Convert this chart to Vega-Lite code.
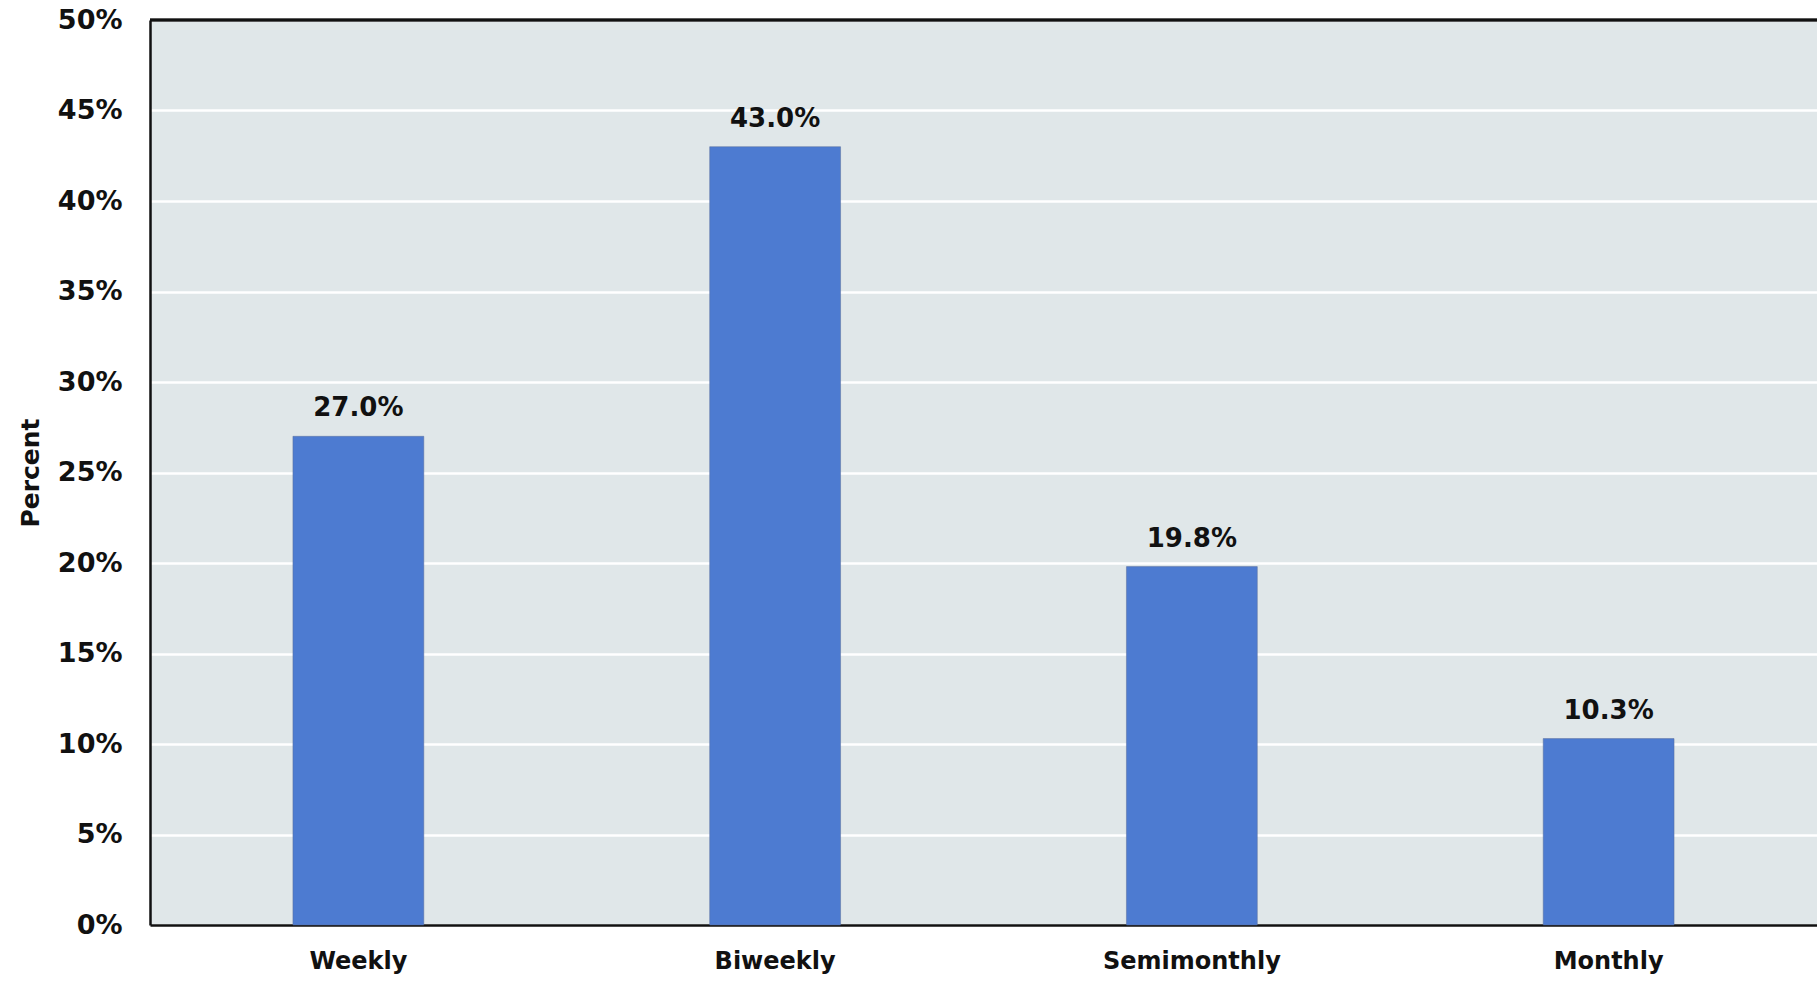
{
  "$schema": "https://vega.github.io/schema/vega-lite/v6.json",
  "width": 1667,
  "height": 905,
  "autosize": {"type": "none"},
  "padding": {"left": 150, "top": 20, "right": 0, "bottom": 57},
  "background": "white",
  "config": {
    "view": {"stroke": null, "fill": "#e0e7e9"},
    "font": "DejaVu Sans"
  },
  "data": {
    "values": [
      {"frequency": "Weekly", "share": 0.27},
      {"frequency": "Biweekly", "share": 0.43},
      {"frequency": "Semimonthly", "share": 0.198},
      {"frequency": "Monthly", "share": 0.103}
    ]
  },
  "encoding": {
    "x": {
      "field": "frequency",
      "type": "nominal",
      "sort": null,
      "scale": {"paddingInner": 0.686, "paddingOuter": 0.343},
      "axis": {
        "title": null,
        "labelAngle": 0,
        "labelFont": "DejaVu Sans",
        "labelFontWeight": "bold",
        "labelFontSize": 24,
        "labelColor": "#111111",
        "labelPadding": 24,
        "ticks": false,
        "domain": true,
        "domainColor": "#111111",
        "domainWidth": 2.5
      }
    },
    "y": {
      "field": "share",
      "type": "quantitative",
      "scale": {"domain": [0, 0.5], "nice": false},
      "axis": {
        "title": "Percent",
        "titleFont": "DejaVu Sans",
        "titleFontSize": 25,
        "titleFontWeight": "bold",
        "titleColor": "#111111",
        "titlePadding": 14,
        "format": ".0%",
        "values": [0, 0.05, 0.1, 0.15, 0.2, 0.25, 0.3, 0.35, 0.4, 0.45, 0.5],
        "labelFont": "DejaVu Sans",
        "labelFontWeight": "bold",
        "labelFontSize": 27,
        "labelColor": "#111111",
        "labelPadding": 28,
        "ticks": false,
        "domain": true,
        "domainColor": "#111111",
        "domainWidth": 2.5,
        "grid": true,
        "gridColor": "white",
        "gridWidth": 2.5
      }
    }
  },
  "layer": [
    {
      "mark": {"type": "bar", "color": "#4d7bd1", "stroke": "#5a6e9a", "strokeWidth": 0.5}
    },
    {
      "mark": {"type": "text", "dy": -20, "baseline": "alphabetic", "font": "DejaVu Sans", "fontWeight": "bold", "fontSize": 26, "color": "#111111"},
      "encoding": {
        "text": {"field": "share", "type": "quantitative", "format": ".1%"}
      }
    },
    {
      "mark": {"type": "rule", "color": "#111111", "strokeWidth": 2.5},
      "encoding": {
        "y": {"datum": 0.5, "type": "quantitative"},
        "x": null
      }
    }
  ]
}
